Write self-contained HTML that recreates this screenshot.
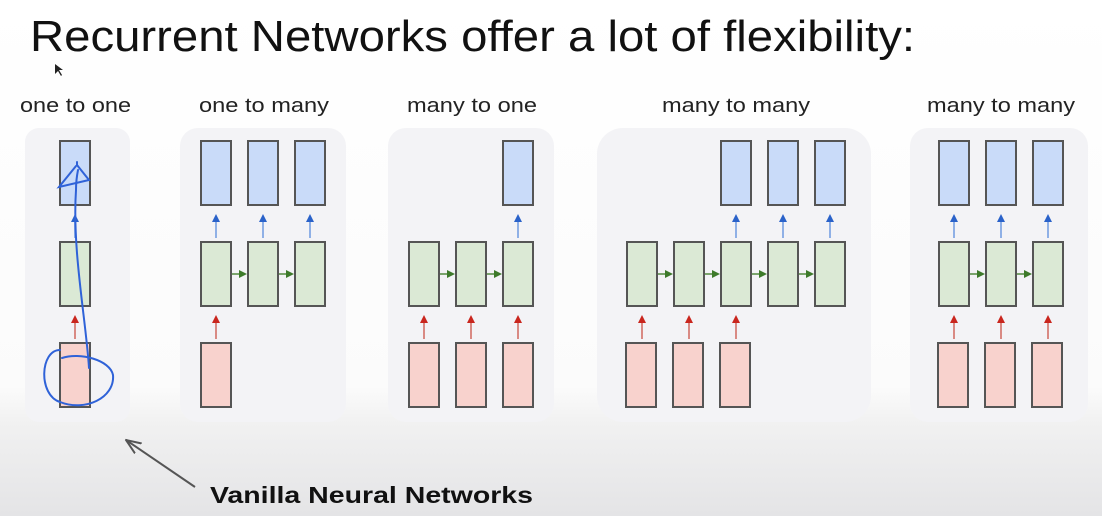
<!DOCTYPE html>
<html><head><style>
html,body{margin:0;padding:0;width:1102px;height:516px;overflow:hidden;}
svg{display:block;font-family:"Liberation Sans",sans-serif;}
</style></head><body>
<svg width="1102" height="516" viewBox="0 0 1102 516">
<defs>
<linearGradient id="bg" x1="0" y1="0" x2="0" y2="1">
<stop offset="0" stop-color="#ffffff"/><stop offset="0.75" stop-color="#fbfbfb"/><stop offset="0.82" stop-color="#f1f1f1"/><stop offset="1" stop-color="#e4e4e6"/>
</linearGradient>
<marker id="ab" markerWidth="8" markerHeight="8" refX="4" refY="4" orient="auto" markerUnits="userSpaceOnUse"><path d="M0,0 L8,4 L0,8 z" fill="#2a62c9"/></marker>
<marker id="ar" markerWidth="8" markerHeight="8" refX="4" refY="4" orient="auto" markerUnits="userSpaceOnUse"><path d="M0,0 L8,4 L0,8 z" fill="#c9261e"/></marker>
<marker id="ag" markerWidth="8" markerHeight="8" refX="4" refY="4" orient="auto" markerUnits="userSpaceOnUse"><path d="M0,0 L8,4 L0,8 z" fill="#3d7a2a"/></marker>
<marker id="ak" markerWidth="16" markerHeight="14" refX="15" refY="7" orient="auto" markerUnits="userSpaceOnUse"><path d="M0,1 L15,7 L0,13" fill="none" stroke="#555" stroke-width="2"/></marker>
</defs>
<rect width="1102" height="516" fill="url(#bg)"/>
<text x="30" y="51" font-size="44" textLength="885" lengthAdjust="spacingAndGlyphs" fill="#111">Recurrent Networks offer a lot of flexibility:</text>
<path d="M55,64 l0,10 l3,-3 l3,5 l1,-1 l-3,-5 l4,0 z" fill="#222"/>
<g font-size="20" fill="#222">
<text x="20" y="112" textLength="111" lengthAdjust="spacingAndGlyphs">one to one</text>
<text x="199" y="112" textLength="130" lengthAdjust="spacingAndGlyphs">one to many</text>
<text x="407" y="112" textLength="130" lengthAdjust="spacingAndGlyphs">many to one</text>
<text x="662" y="112" textLength="148" lengthAdjust="spacingAndGlyphs">many to many</text>
<text x="927" y="112" textLength="148" lengthAdjust="spacingAndGlyphs">many to many</text>
</g>
<g fill="#f3f3f6">
<rect x="25" y="128" width="105" height="294" rx="14"/>
<rect x="180" y="128" width="166" height="294" rx="18"/>
<rect x="388" y="128" width="166" height="294" rx="18"/>
<rect x="597" y="128" width="274" height="294" rx="26"/>
<rect x="910" y="128" width="178" height="294" rx="18"/>
</g>
<g stroke="#555" stroke-width="2">
<g fill="#c9dbf9">
<rect x="60" y="141" width="30" height="64"/>
<rect x="201" y="141" width="30" height="64"/><rect x="248" y="141" width="30" height="64"/><rect x="295" y="141" width="30" height="64"/>
<rect x="503" y="141" width="30" height="64"/>
<rect x="721" y="141" width="30" height="64"/><rect x="768" y="141" width="30" height="64"/><rect x="815" y="141" width="30" height="64"/>
<rect x="939" y="141" width="30" height="64"/><rect x="986" y="141" width="30" height="64"/><rect x="1033" y="141" width="30" height="64"/>
</g>
<g fill="#dbe9d5">
<rect x="60" y="242" width="30" height="64"/>
<rect x="201" y="242" width="30" height="64"/><rect x="248" y="242" width="30" height="64"/><rect x="295" y="242" width="30" height="64"/>
<rect x="409" y="242" width="30" height="64"/><rect x="456" y="242" width="30" height="64"/><rect x="503" y="242" width="30" height="64"/>
<rect x="627" y="242" width="30" height="64"/><rect x="674" y="242" width="30" height="64"/><rect x="721" y="242" width="30" height="64"/><rect x="768" y="242" width="30" height="64"/><rect x="815" y="242" width="30" height="64"/>
<rect x="939" y="242" width="30" height="64"/><rect x="986" y="242" width="30" height="64"/><rect x="1033" y="242" width="30" height="64"/>
</g>
<g fill="#f8d2cd">
<rect x="60" y="343" width="30" height="64"/>
<rect x="201" y="343" width="30" height="64"/>
<rect x="409" y="343" width="30" height="64"/><rect x="456" y="343" width="30" height="64"/><rect x="503" y="343" width="30" height="64"/>
<rect x="626" y="343" width="30" height="64"/><rect x="673" y="343" width="30" height="64"/><rect x="720" y="343" width="30" height="64"/>
<rect x="938" y="343" width="30" height="64"/><rect x="985" y="343" width="30" height="64"/><rect x="1032" y="343" width="30" height="64"/>
</g>
</g>
<g stroke="#8fb0e6" stroke-width="2" marker-end="url(#ab)">
<path d="M75,238 V218"/>
<path d="M216,238 V218"/><path d="M263,238 V218"/><path d="M310,238 V218"/>
<path d="M518,238 V218"/>
<path d="M736,238 V218"/><path d="M783,238 V218"/><path d="M830,238 V218"/>
<path d="M954,238 V218"/><path d="M1001,238 V218"/><path d="M1048,238 V218"/>
</g>
<g stroke="#d98a84" stroke-width="2" marker-end="url(#ar)">
<path d="M75,339 V319"/>
<path d="M216,339 V319"/>
<path d="M424,339 V319"/><path d="M471,339 V319"/><path d="M518,339 V319"/>
<path d="M642,339 V319"/><path d="M689,339 V319"/><path d="M736,339 V319"/>
<path d="M954,339 V319"/><path d="M1001,339 V319"/><path d="M1048,339 V319"/>
</g>
<g stroke="#7aa46c" stroke-width="2" marker-end="url(#ag)">
<path d="M232,274 H243"/><path d="M279,274 H290"/>
<path d="M440,274 H451"/><path d="M487,274 H498"/>
<path d="M658,274 H669"/><path d="M705,274 H716"/><path d="M752,274 H763"/><path d="M799,274 H810"/>
<path d="M970,274 H981"/><path d="M1017,274 H1028"/>
</g>
<g fill="none" stroke="#2f62d8" stroke-width="2" stroke-linecap="round">
<path d="M89,368 C86,320 72,250 76,190 C76,180 77,175 78,170"/>
<path d="M76,166 L59,187 L89,180 L77,165 L77,162"/>
<path d="M60,350 C40,350 38,395 60,402 C85,412 115,398 113,375 C110,360 80,352 62,358"/>
</g>
<path d="M195,487 L126,440" stroke="#555" stroke-width="2" marker-end="url(#ak)" fill="none"/>
<text x="210" y="503" font-size="23" font-weight="bold" fill="#111" textLength="323" lengthAdjust="spacingAndGlyphs">Vanilla Neural Networks</text>
</svg>
</body></html>
